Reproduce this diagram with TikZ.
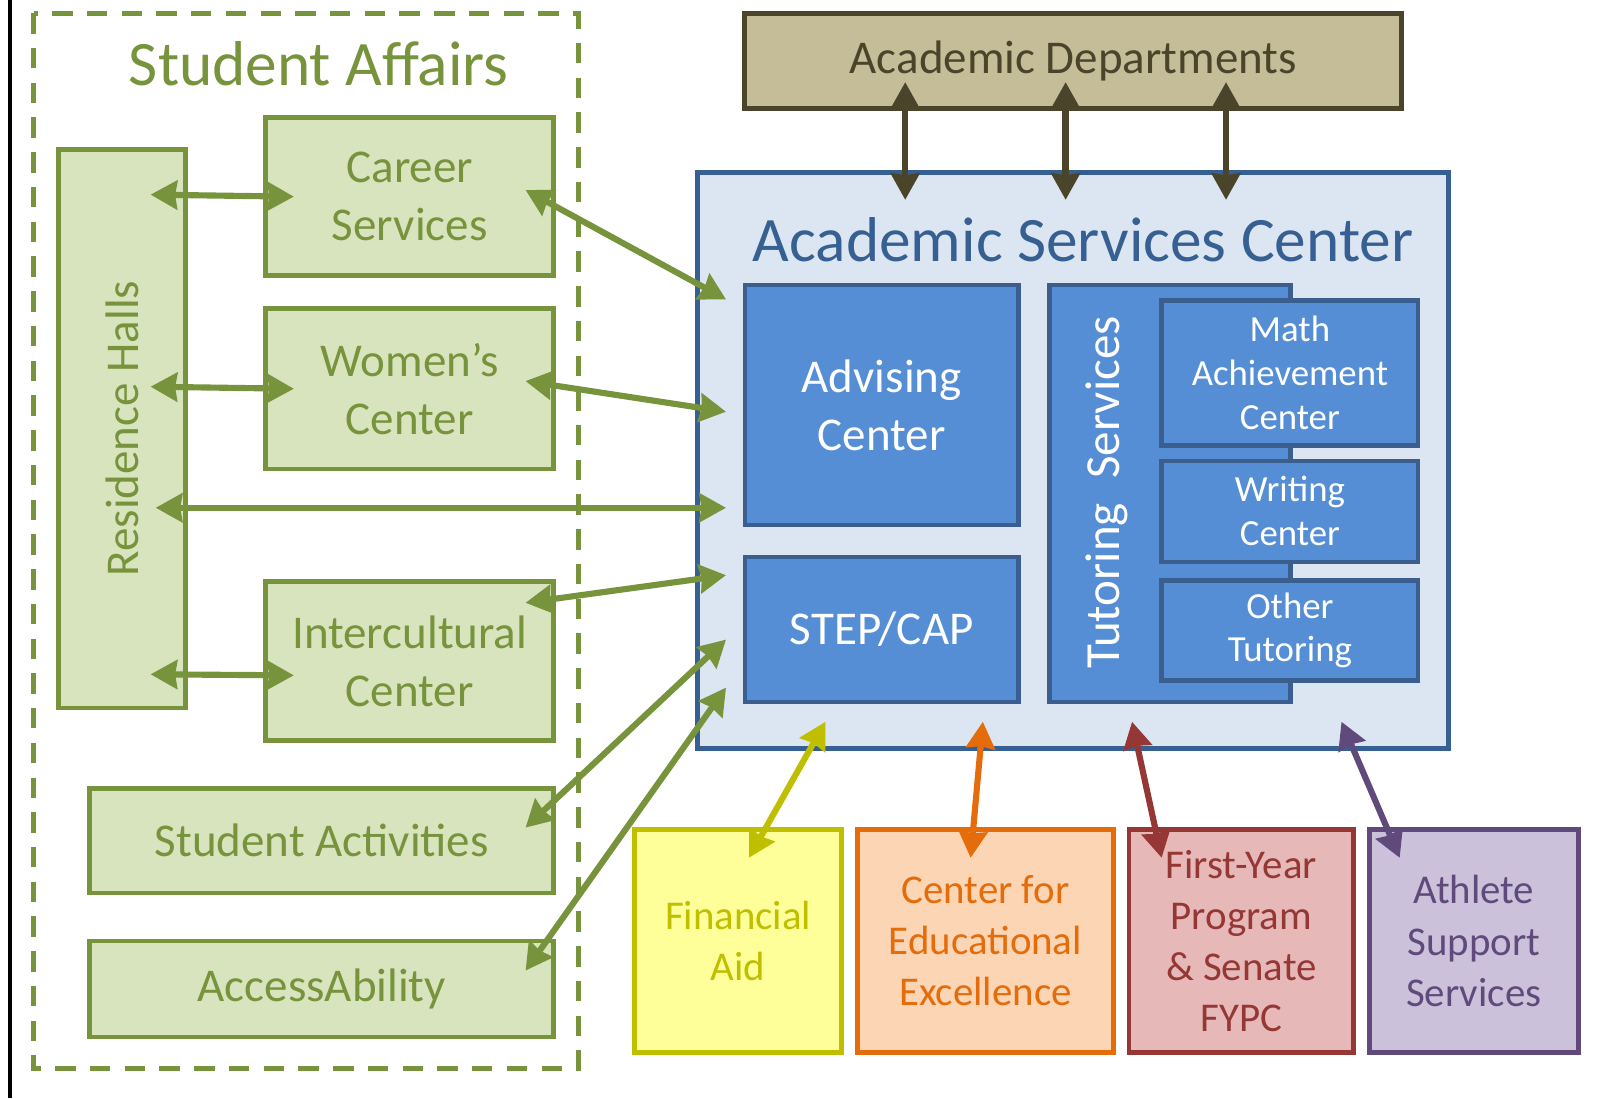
\documentclass[tikz,border=0pt]{standalone}
\usepackage{fontspec}
\setmainfont{Carlito}
\usetikzlibrary{calc,arrows.meta}

\definecolor{sagreen}{HTML}{77933C}
\definecolor{salight}{HTML}{D7E4BD}
\definecolor{deptdark}{HTML}{4A452A}
\definecolor{deptfill}{HTML}{C4BD97}
\definecolor{ascblue}{HTML}{376092}
\definecolor{ascfill}{HTML}{DCE6F2}
\definecolor{unitfill}{HTML}{558ED5}
\definecolor{unitline}{HTML}{3A5F8F}
\definecolor{aidline}{HTML}{BFBF00}
\definecolor{aidfill}{HTML}{FFFF99}
\definecolor{ceeline}{HTML}{E46C0A}
\definecolor{ceefill}{HTML}{FCD5B5}
\definecolor{fypline}{HTML}{953735}
\definecolor{fypfill}{HTML}{E6B9B8}
\definecolor{athline}{HTML}{604A7B}
\definecolor{athfill}{HTML}{CCC1DA}

\begin{document}
\begin{tikzpicture}[x=0.5pt, y=-0.5pt,
    plainbox/.style={draw, line width=2.4pt, align=center, inner sep=0pt},
    sabox/.style={plainbox, draw=sagreen, fill=salight, text=sagreen,
        font=\fontsize{23}{28.5}\selectfont},
    unitbox/.style={plainbox, draw=unitline, fill=unitfill, text=white, line width=2.2pt},
    outbox/.style={plainbox, minimum height=109pt, font=\fontsize{20}{25}\selectfont},
    link/.style={line width=3pt, {Stealth[length=13pt,width=14pt,inset=1pt]}-{Stealth[length=13pt,width=14pt,inset=1pt]}}]

    \useasboundingbox (0,0) rectangle (1568,1075);
    \draw[line width=2pt] (10,0) -- (10,1075);

    % student affairs side
    \draw[sagreen, line width=2.4pt, dash pattern=on 10pt off 7pt] (33,13) rectangle (566,1046);
    \node[text=sagreen, font=\fontsize{31}{36}\selectfont] (satitle) at (312,62) {Student Affairs};

    \node[sabox, minimum width=62.5pt, minimum height=273.5pt] (res) at (119.5,419.5) {\rotatebox{90}{Residence Halls}};
    \node[sabox, minimum width=141pt, minimum height=77.5pt] (career) at (401,192.5) {Career\\Services};
    \node[sabox, minimum width=141pt, minimum height=78.5pt] (women) at (401,380.5) {Women’s\\Center};
    \node[sabox, minimum width=141pt, minimum height=78pt] (inter) at (401,647) {Intercultural\\Center};
    \node[sabox, minimum width=227pt, minimum height=51pt] (act) at (315,823) {Student Activities};
    \node[sabox, minimum width=227pt, minimum height=47pt] (acc) at (315,968) {AccessAbility};

    % academic departments on top
    \node[plainbox, draw=deptdark, fill=deptfill, text=deptdark, font=\fontsize{23}{28}\selectfont,
        minimum width=321.5pt, minimum height=46.5pt] (dept) at (1050.5,59.5) {Academic Departments};

    % the services center and its units
    \node[plainbox, draw=ascblue, fill=ascfill, minimum width=367.5pt, minimum height=282pt] (asc) at (1050.5,451) {};
    \node[text=ascblue, font=\fontsize{31}{36}\selectfont] (asctitle) at (1060,235) {Academic Services Center};

    \node[unitbox, minimum width=134pt, minimum height=117.5pt, font=\fontsize{23}{28.5}\selectfont] (adv) at (863,396.5) {Advising\\Center};
    \node[unitbox, minimum width=134pt, minimum height=71pt, font=\fontsize{23}{28.5}\selectfont] (step) at (863,616) {STEP/CAP};

    \node[unitbox, minimum width=118pt, minimum height=204pt] (tut) at (1145,483) {};
    \node[rotate=90, text=white, font=\fontsize{24}{28}\selectfont] (tutlbl) at (1083,482) {Tutoring\hspace{0.5em}Services};
    \node[unitbox, minimum width=125.5pt, minimum height=71pt, font=\fontsize{18}{21.5}\selectfont] (math) at (1262.5,365) {Math\\Achievement\\Center};
    \node[unitbox, minimum width=125.5pt, minimum height=49.5pt, font=\fontsize{18}{21.5}\selectfont] (writing) at (1262.5,500.5) {Writing\\Center};
    \node[unitbox, minimum width=125.5pt, minimum height=49pt, font=\fontsize{18}{21.5}\selectfont] (other) at (1262.5,617) {Other\\Tutoring};

    % offices below
    \node[outbox, draw=aidline, fill=aidfill, text=aidline, minimum width=101.5pt] (fin) at (722.5,921) {Financial\\Aid};
    \node[outbox, draw=ceeline, fill=ceefill, text=ceeline, minimum width=125.5pt] (cee) at (964.5,921) {Center for\\Educational\\Excellence};
    \node[outbox, draw=fypline, fill=fypfill, text=fypline, minimum width=110pt] (fyp) at (1215,921) {First-Year\\Program\\\& Senate\\FYPC};
    \node[outbox, draw=athline, fill=athfill, text=athline, minimum width=102.5pt] (ath) at (1442.5,921) {Athlete\\Support\\Services};

    % green links
    \draw[link, sagreen] ($(res.east |- career.west)+(-37,-2)$) -- ($(career.west)+(30,0)$);
    \draw[link, sagreen] ($(res.east |- women.west)+(-37,-2)$) -- ($(women.west)+(30,0)$);
    \draw[link, sagreen] ($(res.east |- inter.west)+(-37,13)$) -- ($(inter.west)+(30,14)$);
    \draw[link, sagreen] ($(res.east)+(-32,77.5)$) -- ($(asc.west)+(30,46)$);
    \draw[link, sagreen] ($(career.east)+(-30,-6.5)$) -- ($(asc.west)+(30,-158)$);
    \draw[link, sagreen] ($(women.east)+(-30,-7.5)$) -- ($(asc.west)+(30,-48)$);
    \draw[link, sagreen] ($(inter.east)+(-30,-57)$) -- ($(asc.west)+(30,112)$);
    \draw[link, sagreen] ($(act.east)+(-30,-13)$) -- ($(asc.west)+(30,175)$);
    \draw[link, sagreen] ($(acc.east)+(-30,-18)$) -- ($(asc.west)+(30,222)$);

    % departments
    \foreach \dx in {-164.5,-7.5,149.5}
        \draw[link, deptdark, line width=3.2pt] ($(dept.south)+(\dx,-28)$) -- ($(asc.north)+(\dx,29)$);

    % offices
    \draw[link, aidline] ($(asc.south)+(-242.5,-29)$) -- ($(fin.north)+(10.5,30)$);
    \draw[link, ceeline] ($(asc.south)+(-88.5,-29)$) -- ($(cee.north)+(-14.5,30)$);
    \draw[link, fypline] ($(asc.south)+(57.5,-29)$) -- ($(fyp.north)+(-78,30)$);
    \draw[link, athline] ($(asc.south)+(262.5,-29)$) -- ($(ath.north)+(-72.5,30)$);
\end{tikzpicture}
\end{document}
